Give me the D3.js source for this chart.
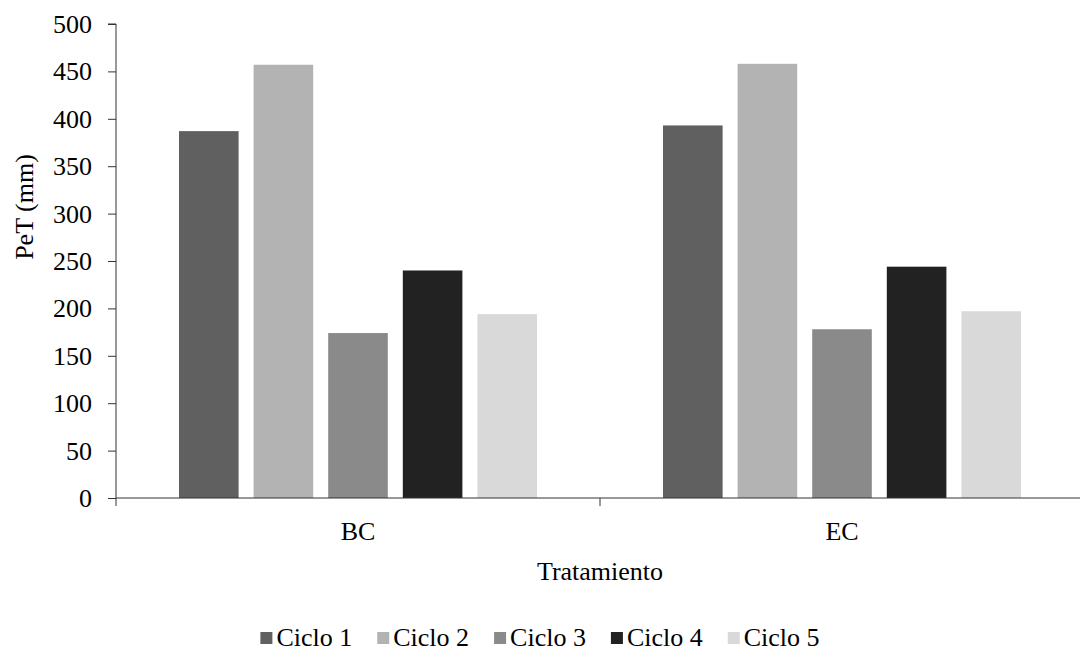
<!DOCTYPE html>
<html>
<head>
<meta charset="utf-8">
<script src="https://cdn.jsdelivr.net/npm/d3@7"></script>
<style>
  html, body { margin: 0; padding: 0; background: #fff; }
  svg { display: block; }
  text { font-family: "Liberation Serif", "Times New Roman", serif; fill: #000; }
</style>
</head>
<body>
<svg id="chart" width="1080" height="653"></svg>
<script>
// Treatments on the x axis
const categories = ["BC", "EC"];
// Cycle series
const seriesNames = ["Ciclo 1", "Ciclo 2", "Ciclo 3", "Ciclo 4", "Ciclo 5"];
// PeT (mm) per cycle, one array per treatment
const valuesBC = [387, 457, 174, 240, 194];
const valuesEC = [393, 458, 178, 244, 197];
const yTicks = [0, 50, 100, 150, 200, 250, 300, 350, 400, 450, 500];
const colors = ["#606060", "#b3b3b3", "#8a8a8a", "#222222", "#d9d9d9"];

const rows = [valuesBC, valuesEC];
const data = categories.map((c, i) => ({
  cat: c,
  vals: seriesNames.map((s, j) => ({ s, v: rows[i][j] }))
}));

const svg = d3.select("#chart");
const plotLeft = 116, plotRight = 1084, plotTop = 24, plotBottom = 498;
const fontSize = 26;

const x0 = d3.scaleBand().domain(categories).range([plotLeft, plotRight]).paddingInner(0).paddingOuter(0);
const x1 = d3.scaleBand().domain(seriesNames)
  .range([63, x0.bandwidth() - 63]).paddingInner(15 / 74.6).paddingOuter(0);
const y = d3.scaleLinear().domain([0, 500]).range([plotBottom, plotTop]);

// Bars
svg.append("g").selectAll("g.cat").data(data).join("g")
  .attr("class", "cat")
  .attr("transform", d => `translate(${x0(d.cat)},0)`)
  .selectAll("rect").data(d => d.vals).join("rect")
  .attr("x", d => x1(d.s))
  .attr("width", x1.bandwidth())
  .attr("y", d => y(d.v))
  .attr("height", d => y(0) - y(d.v))
  .attr("fill", (d, i) => colors[i]);

// Y axis
const yAxis = d3.axisLeft(y).tickValues(yTicks).tickSize(8).tickPadding(16);
const ya = svg.append("g").attr("transform", `translate(${plotLeft},0)`).call(yAxis);
ya.attr("font-family", null).attr("font-size", null);
ya.select(".domain").attr("stroke", "#333").attr("d", `M-8,${plotTop}H0V${plotBottom}`);
ya.selectAll(".tick line").attr("stroke", "#333");
ya.selectAll(".tick text").attr("font-size", fontSize).attr("dy", "0.33em");

// X axis with boundary ticks between categories
svg.append("line").attr("x1", plotLeft).attr("x2", plotRight)
  .attr("y1", plotBottom).attr("y2", plotBottom).attr("stroke", "#333");
const bounds = [plotLeft, ...categories.slice(1).map(c => x0(c)), plotRight];
svg.selectAll("line.xt").data(bounds).join("line")
  .attr("class", "xt")
  .attr("x1", d => d).attr("x2", d => d)
  .attr("y1", plotBottom).attr("y2", plotBottom + 8)
  .attr("stroke", "#333");
svg.selectAll("text.xl").data(categories).join("text")
  .attr("class", "xl")
  .attr("text-anchor", "middle")
  .attr("font-size", fontSize)
  .attr("x", d => x0(d) + x0.bandwidth() / 2)
  .attr("y", 540)
  .text(d => d);

// Axis titles
svg.append("text")
  .attr("text-anchor", "middle").attr("font-size", fontSize)
  .attr("x", 600).attr("y", 580)
  .text("Tratamiento");
svg.append("text")
  .attr("text-anchor", "middle").attr("font-size", fontSize)
  .attr("transform", `translate(33,207) rotate(-90)`)
  .text("PeT (mm)");

// Legend
const items = svg.append("g").selectAll("g").data(seriesNames).join("g");
items.append("rect").attr("width", 12).attr("height", 12).attr("y", -14)
  .attr("fill", (d, i) => colors[i]);
items.append("text").attr("font-size", fontSize).attr("x", 16).text(d => d);
const widths = [];
items.each(function () { widths.push(this.getBBox().width); });
const gap = 25;
const total = d3.sum(widths) + gap * (widths.length - 1);
let cursor = 540 - total / 2;
items.attr("transform", (d, i) => {
  const t = `translate(${cursor},646)`;
  cursor += widths[i] + gap;
  return t;
});
</script>
</body>
</html>
